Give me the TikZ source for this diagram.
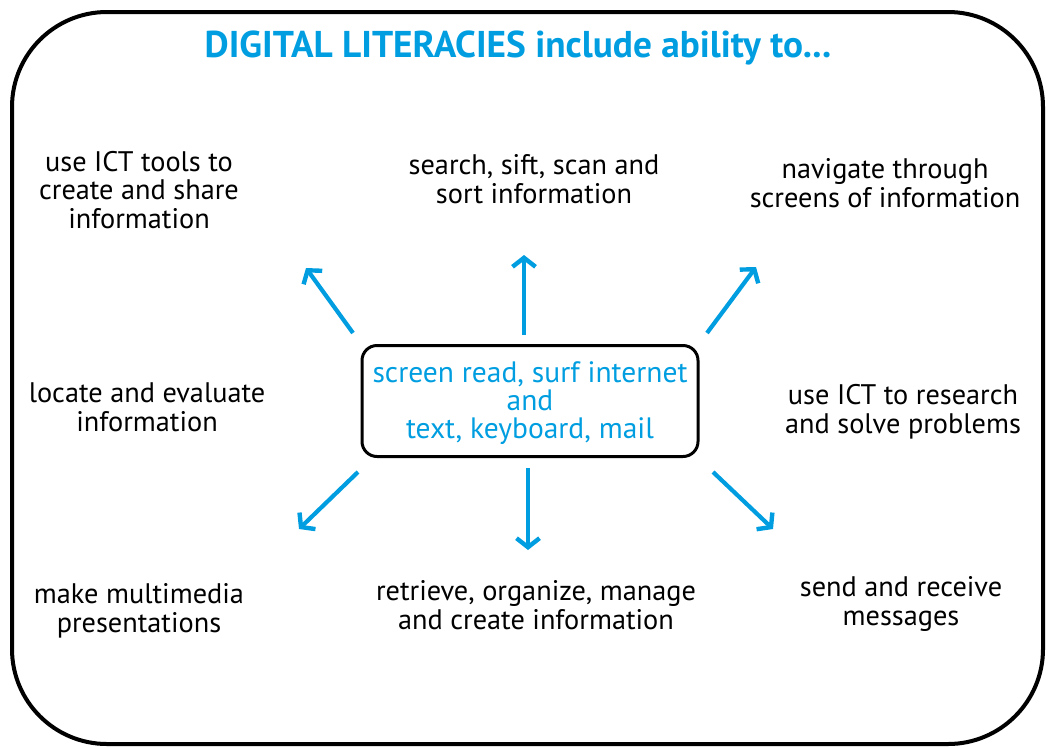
\documentclass[tikz,border=0pt]{standalone}
\usepackage{fontspec}
\setmainfont{PT Sans}
\usetikzlibrary{arrows.meta}
\definecolor{dlblue}{RGB}{0,158,224}
\tikzset{
  lbl/.style={align=center, inner sep=0pt, text=black, font=\fontsize{28.3}{28.8}\selectfont},
  arr/.style={draw=dlblue, line width=4.2pt, -{Straight Barb[length=9pt,width=23pt,line width=4.4pt]}, line join=miter},
}
\begin{document}
\begin{tikzpicture}[x=1pt,y=-1pt]
\useasboundingbox (0,0) rectangle (1048,747);
\draw[line width=4pt, rounded corners=95pt] (12,12) rectangle (1043,744);
\node[text=dlblue, font=\fontsize{37.3}{40}\bfseries\selectfont, inner sep=0pt] (title) at (518,48) {DIGITAL LITERACIES include ability to...};
\node[draw, line width=3pt, rounded corners=15pt, minimum width=336pt, minimum height=111pt, inner sep=0pt] (box) at (530,401) {};
\node[lbl, text=dlblue, font=\fontsize{29.5}{28.3}\selectfont] (boxtext) at (530,403) {screen read, surf internet\\and\\text, keyboard, mail};
\node[lbl] (tl) at (139,190) {use ICT tools to\\create and share\\information};
\node[lbl] (tc) at (534,179) {search, sift, scan and\\sort information};
\node[lbl] (tr) at (885,183) {navigate through\\screens of information};
\node[lbl] (ml) at (147,407) {locate and evaluate\\information};
\node[lbl] (mr) at (903,412) {use ICT to research\\and solve problems};
\node[lbl] (bl) at (139,611) {make multimedia\\presentations};
\node[lbl] (bc) at (536,605) {retrieve, organize, manage\\and create information};
\node[lbl] (br) at (901,604) {send and receive\\messages};
\coordinate (a1s) at (353,333); \coordinate (a1e) at (306,268);
\coordinate (a2s) at (524,335); \coordinate (a2e) at (524,255);
\coordinate (a3s) at (707,333); \coordinate (a3e) at (756,267);
\coordinate (a4s) at (358,472); \coordinate (a4e) at (299,529);
\coordinate (a5s) at (528,468); \coordinate (a5e) at (528,550);
\coordinate (a6s) at (713,472); \coordinate (a6e) at (773,529);
\draw[arr] (a1s) -- (a1e);
\draw[arr] (a2s) -- (a2e);
\draw[arr] (a3s) -- (a3e);
\draw[arr] (a4s) -- (a4e);
\draw[arr] (a5s) -- (a5e);
\draw[arr] (a6s) -- (a6e);
\end{tikzpicture}
\end{document}
